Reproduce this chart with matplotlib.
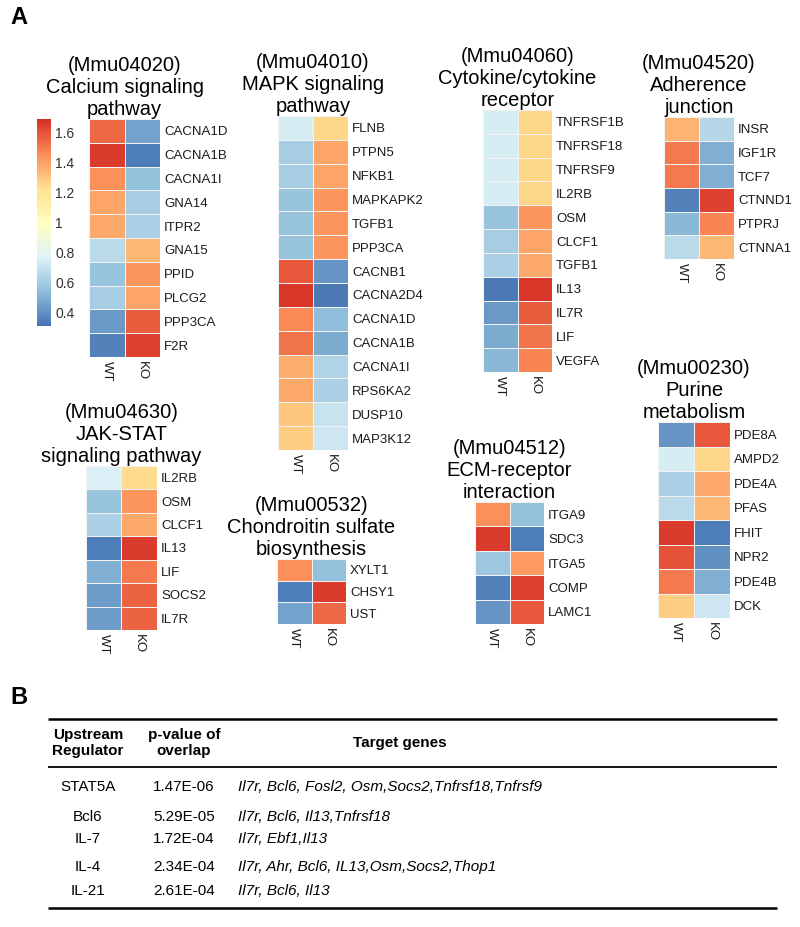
import numpy as np
import matplotlib
matplotlib.use("Agg")
import matplotlib.pyplot as plt
from matplotlib.colors import LinearSegmentedColormap, Normalize
from matplotlib.cm import ScalarMappable

plt.rcParams["font.family"] = ["Liberation Sans", "DejaVu Sans"]

# ── Data ──────────────────────────────────────────────────────────────────────
W, H = 800, 927
VMIN, VMAX = 0.31, 1.69
CBAR_TICKS = [0.4, 0.6, 0.8, 1.0, 1.2, 1.4, 1.6]
CBAR_LABELS = ["0.4", "0.6", "0.8", "1", "1.2", "1.4", "1.6"]
SAMPLES = ["WT", "KO"]

calcium_genes = ["CACNA1D", "CACNA1B", "CACNA1I", "GNA14", "ITPR2",
                 "GNA15", "PPID", "PLCG2", "PPP3CA", "F2R"]
calcium_wt = [1.55, 1.65, 1.45, 1.40, 1.38, 0.66, 0.56, 0.60, 0.43, 0.36]
calcium_ko = [0.45, 0.35, 0.55, 0.60, 0.62, 1.34, 1.44, 1.40, 1.57, 1.64]

mapk_genes = ["FLNB", "PTPN5", "NFKB1", "MAPKAPK2", "TGFB1", "PPP3CA", "CACNB1",
              "CACNA2D4", "CACNA1D", "CACNA1B", "CACNA1I", "RPS6KA2", "DUSP10", "MAP3K12"]
mapk_wt = [0.75, 0.60, 0.60, 0.57, 0.56, 0.57, 1.58, 1.67, 1.46, 1.52, 1.36, 1.38, 1.30, 1.28]
mapk_ko = [1.25, 1.40, 1.40, 1.43, 1.44, 1.43, 0.42, 0.33, 0.54, 0.48, 0.64, 0.62, 0.70, 0.72]

cyto_genes = ["TNFRSF1B", "TNFRSF18", "TNFRSF9", "IL2RB", "OSM", "CLCF1",
              "TGFB1", "IL13", "IL7R", "LIF", "VEGFA"]
cyto_wt = [0.75, 0.75, 0.74, 0.75, 0.56, 0.60, 0.62, 0.33, 0.43, 0.48, 0.52]
cyto_ko = [1.25, 1.25, 1.26, 1.25, 1.44, 1.40, 1.38, 1.67, 1.57, 1.52, 1.48]

adh_genes = ["INSR", "IGF1R", "TCF7", "CTNND1", "PTPRJ", "CTNNA1"]
adh_wt = [1.35, 1.50, 1.50, 0.36, 0.52, 0.66]
adh_ko = [0.65, 0.50, 0.50, 1.64, 1.48, 1.34]

jak_genes = ["IL2RB", "OSM", "CLCF1", "IL13", "LIF", "SOCS2", "IL7R"]
jak_wt = [0.76, 0.57, 0.62, 0.34, 0.50, 0.44, 0.44]
jak_ko = [1.24, 1.43, 1.38, 1.66, 1.50, 1.56, 1.56]

chon_genes = ["XYLT1", "CHSY1", "UST"]
chon_wt = [1.45, 0.35, 0.45]
chon_ko = [0.55, 1.65, 1.55]

ecm_genes = ["ITGA9", "SDC3", "ITGA5", "COMP", "LAMC1"]
ecm_wt = [1.45, 1.65, 0.58, 0.36, 0.42]
ecm_ko = [0.55, 0.35, 1.42, 1.64, 1.58]

pur_genes = ["PDE8A", "AMPD2", "PDE4A", "PFAS", "FHIT", "NPR2", "PDE4B", "DCK"]
pur_wt = [0.42, 0.74, 0.62, 0.66, 1.65, 1.60, 1.50, 1.28]
pur_ko = [1.58, 1.26, 1.38, 1.34, 0.35, 0.40, 0.50, 0.72]

regulators = ["STAT5A", "Bcl6", "IL-7", "IL-4", "IL-21"]
pvalues = ["1.47E-06", "5.29E-05", "1.72E-04", "2.34E-04", "2.61E-04"]
targets = ["Il7r, Bcl6, Fosl2, Osm,Socs2,Tnfrsf18,Tnfrsf9",
           "Il7r, Bcl6, Il13,Tnfrsf18",
           "Il7r, Ebf1,Il13",
           "Il7r, Ahr, Bcl6, IL13,Osm,Socs2,Thop1",
           "Il7r, Bcl6, Il13"]

# ── Layout (pixel boxes: x0, y0, x1, y1) ─────────────────────────────────────
PANELS = [
    ("(Mmu04020)\nCalcium signaling\npathway", calcium_genes, calcium_wt, calcium_ko, (89, 119, 160, 357)),
    ("(Mmu04010)\nMAPK signaling\npathway", mapk_genes, mapk_wt, mapk_ko, (278, 116, 348, 450)),
    ("(Mmu04060)\nCytokine/cytokine\nreceptor", cyto_genes, cyto_wt, cyto_ko, (483, 110, 552, 372)),
    ("(Mmu04520)\nAdherence\njunction", adh_genes, adh_wt, adh_ko, (664, 117, 734, 259)),
    ("(Mmu04630)\nJAK-STAT\nsignaling pathway", jak_genes, jak_wt, jak_ko, (86, 466, 157, 630)),
    ("(Mmu00532)\nChondroitin sulfate\nbiosynthesis", chon_genes, chon_wt, chon_ko, (277, 559, 346, 624)),
    ("(Mmu04512)\nECM-receptor\ninteraction", ecm_genes, ecm_wt, ecm_ko, (475, 502, 544, 624)),
    ("(Mmu00230)\nPurine\nmetabolism", pur_genes, pur_wt, pur_ko, (658, 422, 730, 618)),
]

cmap = LinearSegmentedColormap.from_list(
    "pheat", ["#4575B4", "#91BFDB", "#E0F3F8", "#FFFFBF", "#FEE090", "#FC8D59", "#D73027"], N=100)
norm = Normalize(VMIN, VMAX)


def px_rect(x0, y0, x1, y1):
    return [x0 / W, 1 - y1 / H, (x1 - x0) / W, (y1 - y0) / H]


def draw_heatmap(fig, title, genes, wt, ko, box):
    ax = fig.add_axes(px_rect(*box))
    data = np.column_stack([wt, ko])
    ax.pcolormesh(data, cmap=cmap, norm=norm, edgecolors="#f2f2f2", linewidth=0.6)
    ax.set_xlim(0, 2)
    ax.set_ylim(len(genes), 0)
    ax.yaxis.tick_right()
    ax.set_yticks(np.arange(len(genes)) + 0.5)
    ax.set_yticklabels(genes, fontsize=9.5, color="#1a1a1a")
    ax.set_xticks([0.5, 1.5])
    ax.set_xticklabels(SAMPLES, rotation=-90, fontsize=9.5, color="#1a1a1a")
    ax.tick_params(length=0, pad=3)
    for s in ax.spines.values():
        s.set_visible(False)
    ax.set_title(title, fontsize=14.5, linespacing=1.2, pad=3)


fig = plt.figure(figsize=(W / 100, H / 100), dpi=100)

for title, genes, wt, ko, box in PANELS:
    draw_heatmap(fig, title, genes, wt, ko, box)

# colour key
cax = fig.add_axes(px_rect(37, 119, 51, 326))
cb = fig.colorbar(ScalarMappable(norm=norm, cmap=cmap), cax=cax)
cb.outline.set_visible(False)
cb.set_ticks(CBAR_TICKS)
cb.set_ticklabels(CBAR_LABELS)
cax.tick_params(length=0, labelsize=10, labelcolor="#333333", pad=3)

fig.text(10 / W, 1 - 18 / H, "A", fontsize=17, fontweight="bold", va="center")
fig.text(10 / W, 1 - 697 / H, "B", fontsize=17, fontweight="bold", va="center")

# ── Table (panel B) ──────────────────────────────────────────────────────────
tab = fig.add_axes([0, 0, 1, 1], zorder=-1)
tab.set_xlim(0, W)
tab.set_ylim(H, 0)
tab.axis("off")

tfont = ["Liberation Sans Narrow", "Liberation Sans", "DejaVu Sans"]
tab.hlines([719, 908], 48, 777, color="black", linewidth=1.8)
tab.hlines(767, 48, 777, color="black", linewidth=1.3)
tab.text(88, 743, "Upstream\nRegulator", ha="center", va="center", fontsize=11,
         fontweight="bold", family=tfont, linespacing=1.2)
tab.text(184, 743, "p-value of\noverlap", ha="center", va="center", fontsize=11,
         fontweight="bold", family=tfont, linespacing=1.2)
tab.text(400, 743, "Target genes", ha="center", va="center", fontsize=11,
         fontweight="bold", family=tfont)

row_y = [787, 817, 839, 867, 891]
for y, reg, p, tg in zip(row_y, regulators, pvalues, targets):
    tab.text(88, y, reg, ha="center", va="center", fontsize=11, family=tfont)
    tab.text(184, y, p, ha="center", va="center", fontsize=11, family=tfont)
    tab.text(238, y, tg, ha="left", va="center", fontsize=11, style="italic", family=tfont)

fig.savefig("out.png", dpi=100)
